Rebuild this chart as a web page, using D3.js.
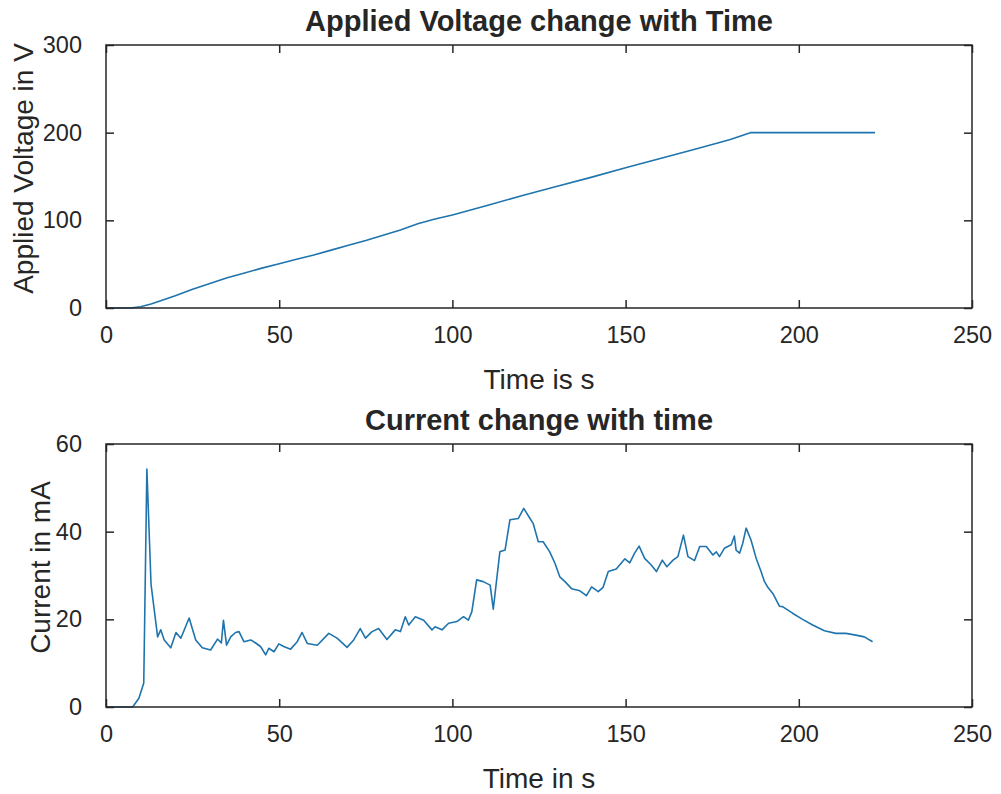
<!DOCTYPE html>
<html>
<head>
<meta charset="utf-8">
<script src="https://cdn.jsdelivr.net/npm/d3@7"></script>
<style>
  html, body { margin: 0; padding: 0; background: #fff; }
  svg { display: block; }
  text { font-family: "Liberation Sans", Arial, Helvetica, sans-serif; fill: #262626; }
</style>
</head>
<body>
<svg id="fig" width="1001" height="794"></svg>
<script>
// ---- data ----
const xTicks = [0, 50, 100, 150, 200, 250];
const voltageTicks = [0, 100, 200, 300];
const currentTicks = [0, 20, 40, 60];

// Applied voltage (V) against time (s)
const voltageTime = [0, 7, 10, 13, 16, 20, 25, 30, 35, 40, 45, 50, 55, 60, 65, 70, 75, 80, 85, 90, 95, 100,
  110, 120, 130, 140, 150, 160, 170, 180, 186, 190, 200, 210, 222];
const voltageValues = [0, 0, 1.5, 4.5, 8.5, 14, 21.5, 28, 34.5, 40, 45.5, 50.5, 55.5, 60.5, 66, 71.5, 77, 83, 89, 96, 101.5, 106,
  117, 128, 138.5, 149, 160, 170.5, 181, 192, 200, 200, 200, 200, 200];

// Current (mA) against time (s)
const currentTime = [0, 7.7, 9.5, 10.9, 11.8, 13, 14.9, 15.8, 16.8, 18.7, 20.2, 21.6, 24, 25.9, 27.8, 30.2, 32.2, 33.3, 33.9, 34.8,
  36, 37.4, 38.4, 39.8, 41.8, 43.2, 44.6, 46.1, 47, 48.5, 49.9, 51.3, 53.3, 55.2, 56.6, 58.1, 61, 64.3, 66.7, 69.6,
  71.5, 73.4, 74.9, 76.8, 78.7, 81.1, 83.5, 85, 86.4, 87.4, 89.3, 91.7, 94.1, 95, 97, 98.9, 101.3, 103.2, 104.6, 105.6,
  107, 108.9, 110.9, 111.8, 113.7, 115.2, 116.6, 119, 120.6, 122.4, 123.3, 124.8, 126.2, 128.1, 129.6, 131, 132.5, 134.4, 136.8, 138.7,
  140.2, 142.1, 143.5, 145, 147.3, 149.8, 151.2, 152.6, 153.9, 155.5, 157.4, 158.9, 160.6, 161.9, 163.7, 165.1, 166.7, 168, 169.9, 171.4,
  173.3, 175.2, 176.2, 177.1, 178.5, 180.5, 181.4, 181.9, 182.9, 183.8, 184.8, 186.2, 187.7, 189.1, 190.1, 191, 192.5, 194.4, 195.3, 198.2,
  201.1, 204, 207.4, 210.7, 213.6, 216.5, 218.9, 221.3];
const currentValues = [0, 0, 2, 5.5, 54.3, 28, 16, 17.6, 15.3, 13.5, 17, 15.7, 20.3, 15.3, 13.5, 13, 15.5, 14.6, 19.8, 14.1,
  16, 17, 17.2, 14.9, 15.3, 14.6, 13.8, 11.9, 13.4, 12.6, 14.4, 13.8, 13.2, 14.9, 17, 14.5, 14.1, 16.8, 15.7, 13.6,
  15.3, 17.9, 15.7, 17.2, 17.9, 15.4, 17.6, 17.2, 20.6, 18.7, 20.6, 19.8, 17.6, 18.3, 17.6, 19.1, 19.5, 20.6, 19.8, 21.7,
  29, 28.6, 27.8, 22.3, 35.4, 35.8, 42.7, 43, 45.3, 43, 41.9, 37.7, 37.7, 35.4, 32.8, 29.7, 28.6, 27, 26.5, 25.4,
  27.4, 26.3, 27.3, 30.9, 31.5, 33.8, 32.9, 35.1, 36.7, 33.9, 32.4, 30.9, 33.5, 32, 33.5, 34.3, 39.2, 34.3, 33.4, 36.6,
  36.6, 34.7, 35.4, 34.3, 36.2, 37, 39, 35.8, 35.1, 37.3, 40.8, 38.1, 33.9, 30.9, 28.6, 27.4, 25.9, 23, 22.9, 21.4,
  20, 18.7, 17.4, 16.8, 16.8, 16.4, 16, 14.9];

// ---- layout ----
const svg = d3.select("#fig");
svg.append("rect").attr("width", 1001).attr("height", 794).attr("fill", "#fff");

const axColor = "#262626";
const lineColor = "#1f74ad";

function drawPanel(cfg) {
  const { left, right, top, bottom, yDomain, yTicks, times, values, title, xLabel, yLabel, yLabelX } = cfg;
  const x = d3.scaleLinear().domain([0, 250]).range([left, right]);
  const y = d3.scaleLinear().domain(yDomain).range([bottom, top]);
  const g = svg.append("g");

  // series line
  const pts = times.map((t, i) => [t, values[i]]);
  g.append("path")
    .datum(pts)
    .attr("fill", "none")
    .attr("stroke", lineColor)
    .attr("stroke-width", 1.6)
    .attr("stroke-linejoin", "round")
    .attr("d", d3.line().x(d => x(d[0])).y(d => y(d[1])));

  // inward ticks on all four sides
  const tl = 8;
  const bottomAx = d3.axisBottom(x).tickValues(xTicks).tickSizeInner(-tl).tickSizeOuter(0).tickPadding(18);
  const topAx = d3.axisTop(x).tickValues(xTicks).tickSizeInner(-tl).tickSizeOuter(0).tickFormat("");
  const leftAx = d3.axisLeft(y).tickValues(yTicks).tickSizeInner(-tl).tickSizeOuter(0).tickPadding(24);
  const rightAx = d3.axisRight(y).tickValues(yTicks).tickSizeInner(-tl).tickSizeOuter(0).tickFormat("");

  const styleAxis = sel => {
    sel.select(".domain").remove();
    sel.selectAll("line").attr("stroke", axColor).attr("stroke-width", 1.5);
    sel.selectAll("text").attr("fill", axColor).style("font-size", "23.5px")
      .style("font-family", "'Liberation Sans', Arial, Helvetica, sans-serif");
  };
  g.append("g").attr("transform", `translate(0,${bottom})`).call(bottomAx).call(styleAxis);
  g.append("g").attr("transform", `translate(0,${top})`).call(topAx).call(styleAxis);
  g.append("g").attr("transform", `translate(${left},0)`).call(leftAx).call(styleAxis);
  g.append("g").attr("transform", `translate(${right},0)`).call(rightAx).call(styleAxis);

  // box
  g.append("rect")
    .attr("x", left).attr("y", top)
    .attr("width", right - left).attr("height", bottom - top)
    .attr("fill", "none").attr("stroke", axColor).attr("stroke-width", 1.5);

  const cx = (left + right) / 2;
  g.append("text").attr("x", cx).attr("y", top - 14)
    .attr("text-anchor", "middle").style("font-size", "29px").style("font-weight", "bold")
    .text(title);
  g.append("text").attr("x", cx).attr("y", bottom + 81)
    .attr("text-anchor", "middle").style("font-size", "28px")
    .text(xLabel);
  g.append("text")
    .attr("transform", `translate(${yLabelX},${(top + bottom) / 2 - 8}) rotate(-90)`)
    .attr("text-anchor", "middle").style("font-size", "28px")
    .text(yLabel);
}

drawPanel({
  left: 106, right: 972, top: 45, bottom: 308,
  yDomain: [0, 300], yTicks: voltageTicks,
  times: voltageTime, values: voltageValues,
  title: "Applied Voltage change with Time",
  xLabel: "Time is s", yLabel: "Applied Voltage in V", yLabelX: 33
});

drawPanel({
  left: 106, right: 972, top: 444, bottom: 707,
  yDomain: [0, 60], yTicks: currentTicks,
  times: currentTime, values: currentValues,
  title: "Current change with time",
  xLabel: "Time in s", yLabel: "Current in mA", yLabelX: 50
});
</script>
</body>
</html>
